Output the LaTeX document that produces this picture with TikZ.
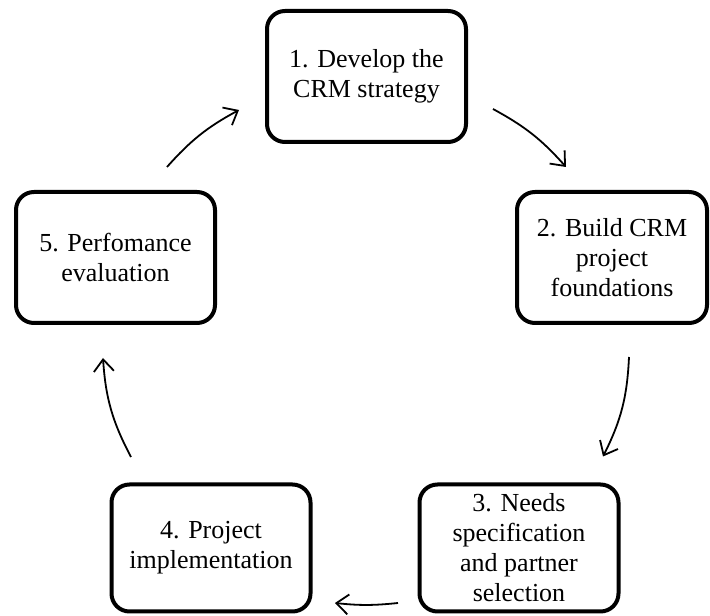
\documentclass[tikz,border=0pt]{standalone}
\usepackage{fontspec}
\setmainfont{Liberation Serif}
\usetikzlibrary{arrows.meta,positioning}

\begin{document}
\begin{tikzpicture}[
  x=1pt, y=1pt,
  node distance=105pt,
  stage/.style={
    draw, line width=4pt, rounded corners=18pt, align=center,
    font=\fontsize{26}{30}\selectfont, minimum width=199pt,
    minimum height=131pt, inner sep=3pt
  },
  arr/.style={-{Straight Barb[length=12pt,width=20pt]}, line width=1.8pt}
]
\useasboundingbox (0,0) rectangle (710,616);

% Top and sides
\node[stage] (strategy) at (366.5,539.5) {1. Develop the\\CRM strategy};
\node[stage, minimum width=190pt] (foundations) at (612,358.5) {2. Build CRM\\project\\foundations};
\node[stage] (evaluation) at (115.5,358.5) {5. Perfomance\\evaluation};

% Bottom row
\node[stage, minimum height=127pt] (implement) at (211,68) {4. Project\\implementation};
\node[stage, minimum height=127pt, right=105pt of implement] (needs) {3. Needs\\specification\\and partner\\selection};

% Cycle arrows
\draw[arr] ([xshift=51.5pt,yshift=23pt]evaluation.north)
  to[bend left=10] ([xshift=-26pt,yshift=-33.5pt]strategy.west);
\draw[arr] ([xshift=25pt,yshift=-32.5pt]strategy.east)
  to[bend left=10] ([xshift=-46pt,yshift=23pt]foundations.north);
\draw[arr] ([xshift=17pt,yshift=-32pt]foundations.south)
  to[bend left=12] ([xshift=84pt,yshift=26pt]needs.north);
\draw[arr] ([xshift=-19.5pt,yshift=10.5pt]needs.south west)
  to[bend left=6] ([xshift=22.5pt,yshift=10.5pt]implement.south east);
\draw[arr] ([xshift=-80pt,yshift=25.5pt]implement.north)
  to[bend left=12] ([xshift=-12.5pt,yshift=-33pt]evaluation.south);

\end{tikzpicture}
\end{document}
